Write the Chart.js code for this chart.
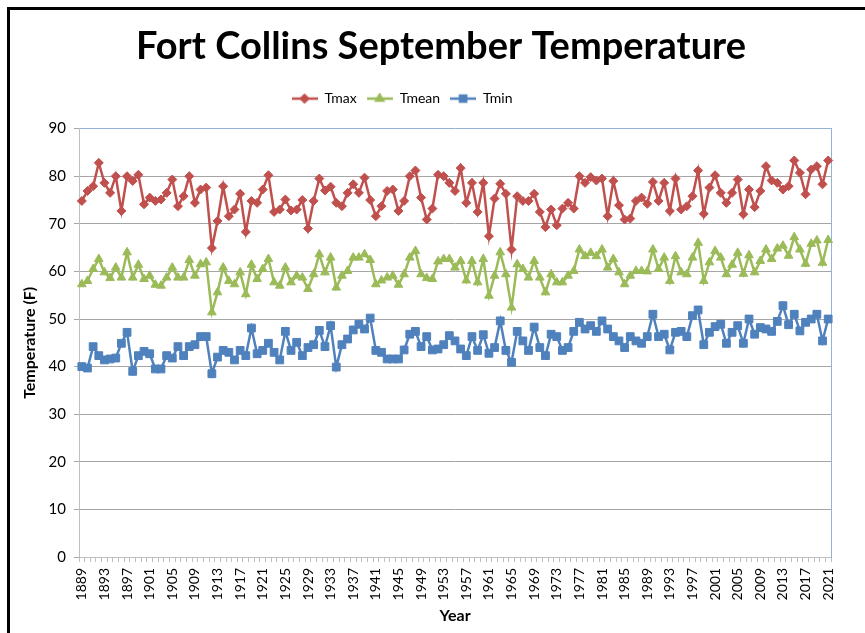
<!DOCTYPE html>
<html lang="en">
<head>
<meta charset="utf-8">
<title>Fort Collins September Temperature</title>
<script src="https://cdn.jsdelivr.net/npm/chart.js@4.4.0/dist/chart.umd.min.js"></script>
<style>
  body { margin: 0; overflow: hidden; background: #fff; }
  .frame { position: absolute; left: 7px; top: 7px; width: 900px; height: 700px; border: 3px solid #000; }
  canvas { position: absolute; left: 0; top: 0; }
</style>
</head>
<body>
<div class="frame"></div>
<canvas id="tempChart" width="865" height="633"></canvas>

<script>
  // years on the category axis
  const years = [
    1889, 1890, 1891, 1892, 1893, 1894, 1895, 1896, 1897, 1898,
    1899, 1900, 1901, 1902, 1903, 1904, 1905, 1906, 1907, 1908,
    1909, 1910, 1911, 1912, 1913, 1914, 1915, 1916, 1917, 1918,
    1919, 1920, 1921, 1922, 1923, 1924, 1925, 1926, 1927, 1928,
    1929, 1930, 1931, 1932, 1933, 1934, 1935, 1936, 1937, 1938,
    1939, 1940, 1941, 1942, 1943, 1944, 1945, 1946, 1947, 1948,
    1949, 1950, 1951, 1952, 1953, 1954, 1955, 1956, 1957, 1958,
    1959, 1960, 1961, 1962, 1963, 1964, 1965, 1966, 1967, 1968,
    1969, 1970, 1971, 1972, 1973, 1974, 1975, 1976, 1977, 1978,
    1979, 1980, 1981, 1982, 1983, 1984, 1985, 1986, 1987, 1988,
    1989, 1990, 1991, 1992, 1993, 1994, 1995, 1996, 1997, 1998,
    1999, 2000, 2001, 2002, 2003, 2004, 2005, 2006, 2007, 2008,
    2009, 2010, 2011, 2012, 2013, 2014, 2015, 2016, 2017, 2018,
    2019, 2020, 2021
  ];

  const tmax = [
    74.8, 76.9, 77.9, 82.8, 78.6, 76.5, 80.0, 72.7, 80.0, 79.0,
    80.3, 74.1, 75.5, 74.8, 75.1, 76.5, 79.3, 73.7, 75.8, 80.0,
    74.4, 77.2, 77.6, 64.9, 70.6, 77.9, 71.6, 73.0, 76.3, 68.3,
    74.8, 74.4, 77.2, 80.2, 72.5, 73.0, 75.1, 72.8, 73.0, 75.0,
    69.0, 74.8, 79.5, 77.0, 77.8, 74.4, 73.7, 76.5, 78.3, 76.5,
    79.7, 75.0, 71.6, 73.7, 76.9, 77.2, 72.7, 74.8, 80.0, 81.2,
    75.5, 70.9, 73.2, 80.3, 80.0, 78.6, 76.9, 81.7, 74.4, 78.6,
    72.5, 78.6, 67.4, 75.3, 78.4, 76.3, 64.6, 75.8, 74.8, 74.8,
    76.3, 72.5, 69.3, 73.0, 69.7, 73.2, 74.4, 73.2, 80.0, 78.6,
    79.8, 79.1, 79.5, 71.6, 79.0, 73.9, 70.9, 71.1, 74.8, 75.5,
    74.2, 78.8, 74.8, 78.6, 72.7, 79.5, 73.0, 73.7, 75.8, 81.2,
    72.1, 77.6, 80.2, 76.5, 74.4, 76.5, 79.3, 72.0, 77.2, 73.5,
    76.9, 82.1, 79.1, 78.6, 77.2, 77.9, 83.3, 80.7, 76.2, 81.4,
    82.1, 78.3, 83.3
  ];

  const tmean = [
    57.3, 58.0, 60.5, 62.6, 59.8, 58.6, 60.8, 58.7, 64.0, 58.7,
    61.4, 58.4, 59.1, 57.2, 57.0, 58.7, 60.8, 58.7, 58.7, 62.4,
    59.1, 61.5, 61.9, 51.4, 55.6, 60.8, 58.0, 57.3, 59.8, 55.2,
    61.4, 58.4, 60.5, 62.6, 57.7, 57.0, 60.8, 57.7, 59.1, 58.7,
    56.3, 59.4, 63.6, 59.8, 62.9, 56.6, 59.1, 60.1, 62.9, 62.9,
    63.6, 62.4, 57.3, 58.1, 58.7, 59.1, 57.2, 59.4, 62.9, 64.3,
    59.4, 58.6, 58.4, 62.1, 62.6, 62.6, 60.8, 62.2, 58.1, 62.2,
    57.7, 62.6, 54.9, 59.1, 64.0, 59.4, 52.4, 61.5, 60.5, 58.7,
    62.2, 58.7, 55.6, 59.4, 57.7, 57.7, 59.1, 60.1, 64.6, 63.2,
    63.9, 63.2, 64.6, 60.8, 62.6, 59.8, 57.3, 59.1, 60.1, 60.1,
    60.0, 64.6, 60.5, 62.9, 58.0, 63.2, 59.8, 59.4, 62.9, 66.0,
    58.0, 61.9, 64.3, 62.9, 59.4, 61.4, 63.9, 59.5, 63.4, 59.8,
    62.2, 64.6, 62.6, 64.8, 65.4, 63.3, 67.2, 64.6, 61.6, 65.8,
    66.5, 61.8, 66.6
  ];

  const tmin = [
    40.0, 39.7, 44.2, 42.3, 41.4, 41.6, 41.8, 44.9, 47.2, 39.0,
    42.3, 43.2, 42.7, 39.5, 39.5, 42.3, 41.8, 44.2, 42.3, 44.2,
    44.6, 46.3, 46.3, 38.5, 42.0, 43.4, 43.0, 41.4, 43.4, 42.3,
    48.1, 42.7, 43.4, 44.9, 43.0, 41.4, 47.4, 43.4, 45.1, 42.3,
    44.0, 44.6, 47.6, 44.2, 48.6, 39.9, 44.6, 45.8, 47.7, 48.9,
    47.9, 50.2, 43.4, 43.0, 41.6, 41.6, 41.6, 43.5, 46.8, 47.4,
    44.2, 46.3, 43.5, 43.7, 44.6, 46.5, 45.4, 43.7, 42.3, 46.3,
    43.4, 46.7, 42.8, 44.0, 49.6, 43.4, 40.9, 47.4, 45.4, 43.4,
    48.3, 44.0, 42.3, 46.8, 46.3, 43.4, 44.0, 47.4, 49.3, 47.9,
    48.6, 47.4, 49.6, 47.9, 46.3, 45.4, 44.0, 46.3, 45.4, 44.9,
    46.3, 51.0, 46.3, 46.8, 43.5, 47.2, 47.4, 46.3, 50.7, 51.9,
    44.6, 47.2, 48.4, 48.9, 44.9, 47.2, 48.6, 44.9, 50.0, 46.8,
    48.2, 47.9, 47.4, 49.5, 52.8, 48.8, 51.0, 47.5, 49.3, 50.0,
    51.0, 45.4, 50.0
  ];

  // only every 4th year gets a label
  const labelEvery = 4;
  const yTicks = [0, 10, 20, 30, 40, 50, 60, 70, 80, 90];

  const red = '#C0504D', green = '#9BBB59', blue = '#4F81BD';
  const font = 'Lato';

  // small line + marker pictures for the legend
  function legendIcon(color, style, radius) {
    const c = document.createElement('canvas');
    c.width = 26; c.height = 12;
    const g = c.getContext('2d');
    g.strokeStyle = color;
    g.fillStyle = color;
    g.lineWidth = 2.5;
    g.beginPath();
    g.moveTo(0, 6);
    g.lineTo(26, 6);
    g.stroke();
    Chart.helpers.drawPoint(g, {pointStyle: style, radius: radius, borderWidth: 1, rotation: 0}, 13, 6);
    return c;
  }

  const series = [
    {label: 'Tmax', data: tmax, color: red, style: 'rectRot', r: 4.5},
    {label: 'Tmean', data: tmean, color: green, style: 'triangle', r: 5},
    {label: 'Tmin', data: tmin, color: blue, style: 'rect', r: 5.5}
  ];
  const icons = series.map(s => legendIcon(s.color, s.style, s.r * 0.8));

  // nudge title and legend to where the original has them
  const moveBlocks = {
    id: 'moveBlocks',
    afterLayout(chart) {
      const lg = chart.legend;
      lg.left -= 18; lg.right -= 18;
      lg.top -= 13; lg.bottom -= 13;
      const tb = chart.titleBlock;
      tb.left += 21; tb.right += 21;
    }
  };

  const ctx = document.getElementById('tempChart').getContext('2d');
  Chart.defaults.font.family = font;
  Chart.defaults.color = '#000';

  const chart = new Chart(ctx, {
    type: 'line',
    data: {
      labels: years.map(String),
      datasets: series.map(s => ({
        label: s.label,
        data: s.data,
        borderColor: s.color,
        backgroundColor: s.color,
        borderWidth: 2.5,
        pointStyle: s.style,
        pointRadius: s.r,
        pointBorderWidth: 1,
        pointBackgroundColor: s.color,
        pointBorderColor: s.color,
        tension: 0,
        fill: false
      }))
    },
    options: {
      responsive: false,
      animation: false,
      layout: {padding: {left: 9, right: 34, top: 12, bottom: 0}},
      plugins: {
        title: {
          display: true,
          text: 'Fort Collins September Temperature',
          font: {size: 38, weight: 'bold'},
          color: '#000',
          padding: {top: 12, bottom: 25}
        },
        legend: {
          display: true,
          labels: {
            usePointStyle: true,
            pointStyleWidth: 26,
            font: {size: 14},
            color: '#000',
            padding: 10,
            generateLabels: chart => chart.data.datasets.map((ds, i) => ({
              text: ds.label,
              pointStyle: icons[i],
              fillStyle: ds.borderColor,
              strokeStyle: ds.borderColor,
              lineWidth: 0,
              hidden: false,
              datasetIndex: i
            }))
          }
        },
        tooltip: {enabled: false}
      },
      scales: {
        x: {
          offset: true,
          grid: {
            offset: true,
            drawOnChartArea: false,
            drawTicks: true,
            tickLength: 5,
            color: '#bfbfbf'
          },
          border: {color: '#bfbfbf'},
          ticks: {
            autoSkip: false,
            maxRotation: 90,
            minRotation: 90,
            padding: 6,
            font: {size: 14},
            color: '#000',
            callback: function (val, i) {
              return i % labelEvery === 0 ? this.getLabelForValue(val) : '';
            }
          },
          title: {
            display: true,
            text: 'Year',
            font: {size: 16, weight: 'bold'},
            color: '#000',
            padding: {top: 8, bottom: 8}
          },
          afterFit: scale => { scale.height = 76; }
        },
        y: {
          min: 0,
          max: 90,
          afterBuildTicks: scale => { scale.ticks = yTicks.map(v => ({value: v})); },
          grid: {
            color: c => c.tick.value === 90 ? '#95B3D7' : '#a6a6a6',
            tickColor: '#a6a6a6',
            tickLength: 5
          },
          border: {color: '#bfbfbf'},
          ticks: {font: {size: 15}, color: '#000', padding: 8},
          title: {
            display: true,
            text: 'Temperature (F)',
            font: {size: 16, weight: 'bold'},
            color: '#000',
            padding: {top: 11, bottom: 11}
          },
          afterFit: scale => { scale.width = 70; }
        },
        yRight: {
          position: 'right',
          min: 0,
          max: 90,
          grid: {display: false},
          border: {color: '#95B3D7'},
          ticks: {display: false},
          afterFit: scale => { scale.width = 0; }
        }
      }
    },
    plugins: [moveBlocks]
  });
</script>
</body>
</html>
